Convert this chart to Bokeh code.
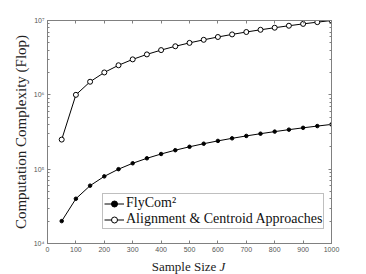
from bokeh.plotting import figure
from bokeh.models import LinearAxis, LogAxis, Legend, LegendItem, Div, FixedTicker, CustomJSTickFormatter
from bokeh.layouts import column
from bokeh.embed import file_html
from bokeh.resources import INLINE

J = [50, 100, 150, 200, 250, 300, 350, 400, 450, 500,
     550, 600, 650, 700, 750, 800, 850, 900, 950, 1000]
flycom = [2e4, 4e4, 6e4, 8e4, 1e5, 1.2e5, 1.4e5, 1.6e5, 1.8e5, 2e5,
          2.2e5, 2.4e5, 2.6e5, 2.8e5, 3e5, 3.2e5, 3.4e5, 3.6e5, 3.8e5, 4e5]
align = [2.5e5, 1e6, 1.5e6, 2e6, 2.5e6, 3e6, 3.5e6, 4e6, 4.5e6, 5e6,
         5.5e6, 6e6, 6.5e6, 7e6, 7.5e6, 8e6, 8.5e6, 9e6, 9.5e6, 1e7]
xticks = [0, 100, 200, 300, 400, 500, 600, 700, 800, 900, 1000]
yticks = [1e4, 1e5, 1e6, 1e7]
ytick_labels = ["10\u2074", "10\u2075", "10\u2076", "10\u2077"]
series_names = ["FlyCom\u00b2", "Alignment & Centroid Approaches"]

SERIF = "Liberation Serif"
AX = "#808080"
yminor = [m * 10 ** k for k in range(4, 7) for m in range(2, 10)]

p = figure(width=366, height=256, x_range=(0, 1000), y_range=(1e4, 1e7),
           y_axis_type="log", output_backend="svg", toolbar_location=None,
           min_border_left=47, min_border_right=35, min_border_top=20,
           min_border_bottom=13)
p.grid.visible = False
p.outline_line_color = AX
p.background_fill_color = "white"
p.border_fill_color = "white"

xa = p.xaxis[0]
xa.ticker = FixedTicker(ticks=xticks)
xa.major_label_text_font_size = "7px"
xa.major_label_text_color = "#555555"
xa.major_label_standoff = 3
xa.axis_line_color = AX
xa.major_tick_line_color = AX
xa.major_tick_in = 3
xa.major_tick_out = 0
xa.minor_tick_line_color = None

ya = p.yaxis[0]
ya.ticker = FixedTicker(ticks=yticks, minor_ticks=yminor)
ya.major_label_overrides = {t: l for t, l in zip(yticks, ytick_labels)}
ya.major_label_text_font_size = "7px"
ya.major_label_text_color = "#555555"
ya.major_label_standoff = 3
ya.axis_line_color = AX
ya.major_tick_line_color = AX
ya.minor_tick_line_color = AX
ya.major_tick_in = 3
ya.major_tick_out = 0
ya.minor_tick_in = 2
ya.minor_tick_out = 0
ya.axis_label = "Computation Complexity (Flop)"
ya.axis_label_text_font = SERIF
ya.axis_label_text_font_size = "15px"
ya.axis_label_text_font_style = "normal"
ya.axis_label_text_color = "#222222"
ya.axis_label_standoff = 2

blank = CustomJSTickFormatter(code="return '';")
top = LinearAxis(ticker=FixedTicker(ticks=xticks), formatter=blank,
                 axis_line_color=AX, major_tick_line_color=AX, major_tick_in=3,
                 major_tick_out=0, minor_tick_line_color=None, major_label_standoff=0)
p.add_layout(top, "above")
right = LogAxis(ticker=FixedTicker(ticks=yticks, minor_ticks=yminor), formatter=blank,
                axis_line_color=AX,
                major_tick_line_color=AX, minor_tick_line_color=AX,
                major_tick_in=3, major_tick_out=0, minor_tick_in=2, minor_tick_out=0,
                major_label_standoff=0)
p.add_layout(right, "right")

r1 = p.line(J, flycom, line_color="black", line_width=1)
m1 = p.scatter(J, flycom, size=3.5, fill_color="black", line_color="black")
r2 = p.line(J, align, line_color="black", line_width=1)
m2 = p.scatter(J, align, size=5, fill_color="white", line_color="black", line_width=1)

legend = Legend(items=[LegendItem(label=series_names[0], renderers=[r1, m1]),
                       LegendItem(label=series_names[1], renderers=[r2, m2])],
                location=(55, 14), label_text_font=SERIF, label_text_font_size="14px",
                label_text_color="#111111", glyph_width=20, glyph_height=15,
                label_height=15, spacing=-2, padding=1, margin=0, label_standoff=2,
                border_line_color=AX, border_line_width=1, background_fill_alpha=1)
p.add_layout(legend, "center")

xlabel = Div(text="Sample Size <i>J</i>", width=366, height=18,
             styles={"font-family": SERIF, "font-size": "13px", "color": "#222222",
                     "text-align": "center", "line-height": "12px", "padding-left": "1px"})

layout = column(p, xlabel, spacing=0)
open("out.html", "w").write(file_html(layout, INLINE))
